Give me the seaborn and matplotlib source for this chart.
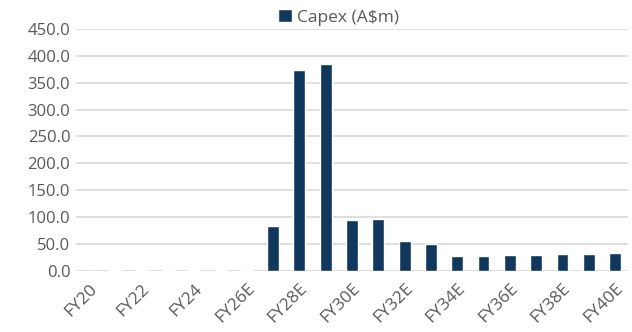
import matplotlib
matplotlib.use("Agg")
import matplotlib.pyplot as plt
import seaborn as sns
import pandas as pd

years = ["FY20", "FY21", "FY22", "FY23", "FY24", "FY25E", "FY26E", "FY27E", "FY28E",
         "FY29E", "FY30E", "FY31E", "FY32E", "FY33E", "FY34E", "FY35E", "FY36E",
         "FY37E", "FY38E", "FY39E", "FY40E"]
capex = [0.0, 2.0, 2.0, 2.0, 2.0, 2.0, 2.0, 83.0, 373.0,
         385.0, 94.0, 96.0, 56.0, 50.0, 27.0, 27.0, 29.0,
         29.0, 31.0, 31.0, 33.0]
y_ticks = [0, 50, 100, 150, 200, 250, 300, 350, 400, 450]
series_name = "Capex (A$m)"

sns.set_theme(style="white")
plt.rcParams["font.family"] = ["Open Sans", "DejaVu Sans"]

df = pd.DataFrame({"year": years, "capex": capex})

fig = plt.figure(figsize=(6.32, 3.32), dpi=100)
ax = fig.add_axes([0.120, 0.184, 0.874, 0.729])

sns.barplot(data=df, x="year", y="capex", color="#0F385C", width=0.45,
            saturation=1, ax=ax, label=series_name, zorder=3)

ax.set_ylim(0, 450)
ax.set_yticks(y_ticks)
ax.set_yticklabels([f"{v:.1f}" for v in y_ticks], fontsize=12, color="#595959")
ax.yaxis.grid(True, color="#D9D9D9", linewidth=1.2, zorder=0)
ax.set_axisbelow(True)

ax.set_xlim(-0.5, len(years) - 0.5)
ax.set_xticks(range(len(years)))
ax.set_xticklabels([y if i % 2 == 0 else "" for i, y in enumerate(years)],
                   rotation=45, ha="right", rotation_mode="anchor",
                   fontsize=12.5, color="#595959")
ax.tick_params(axis="both", length=0, pad=4)
ax.tick_params(axis="x", pad=7)
ax.set_xlabel("")
ax.set_ylabel("")
for s in ax.spines.values():
    s.set_visible(False)

ax.legend(loc="lower center", bbox_to_anchor=(0.476, 0.985), frameon=False,
          fontsize=12.5, labelcolor="#595959", handlelength=0.8, handleheight=0.8,
          handletextpad=0.3, borderaxespad=0)

fig.savefig("out.png", dpi=100)
